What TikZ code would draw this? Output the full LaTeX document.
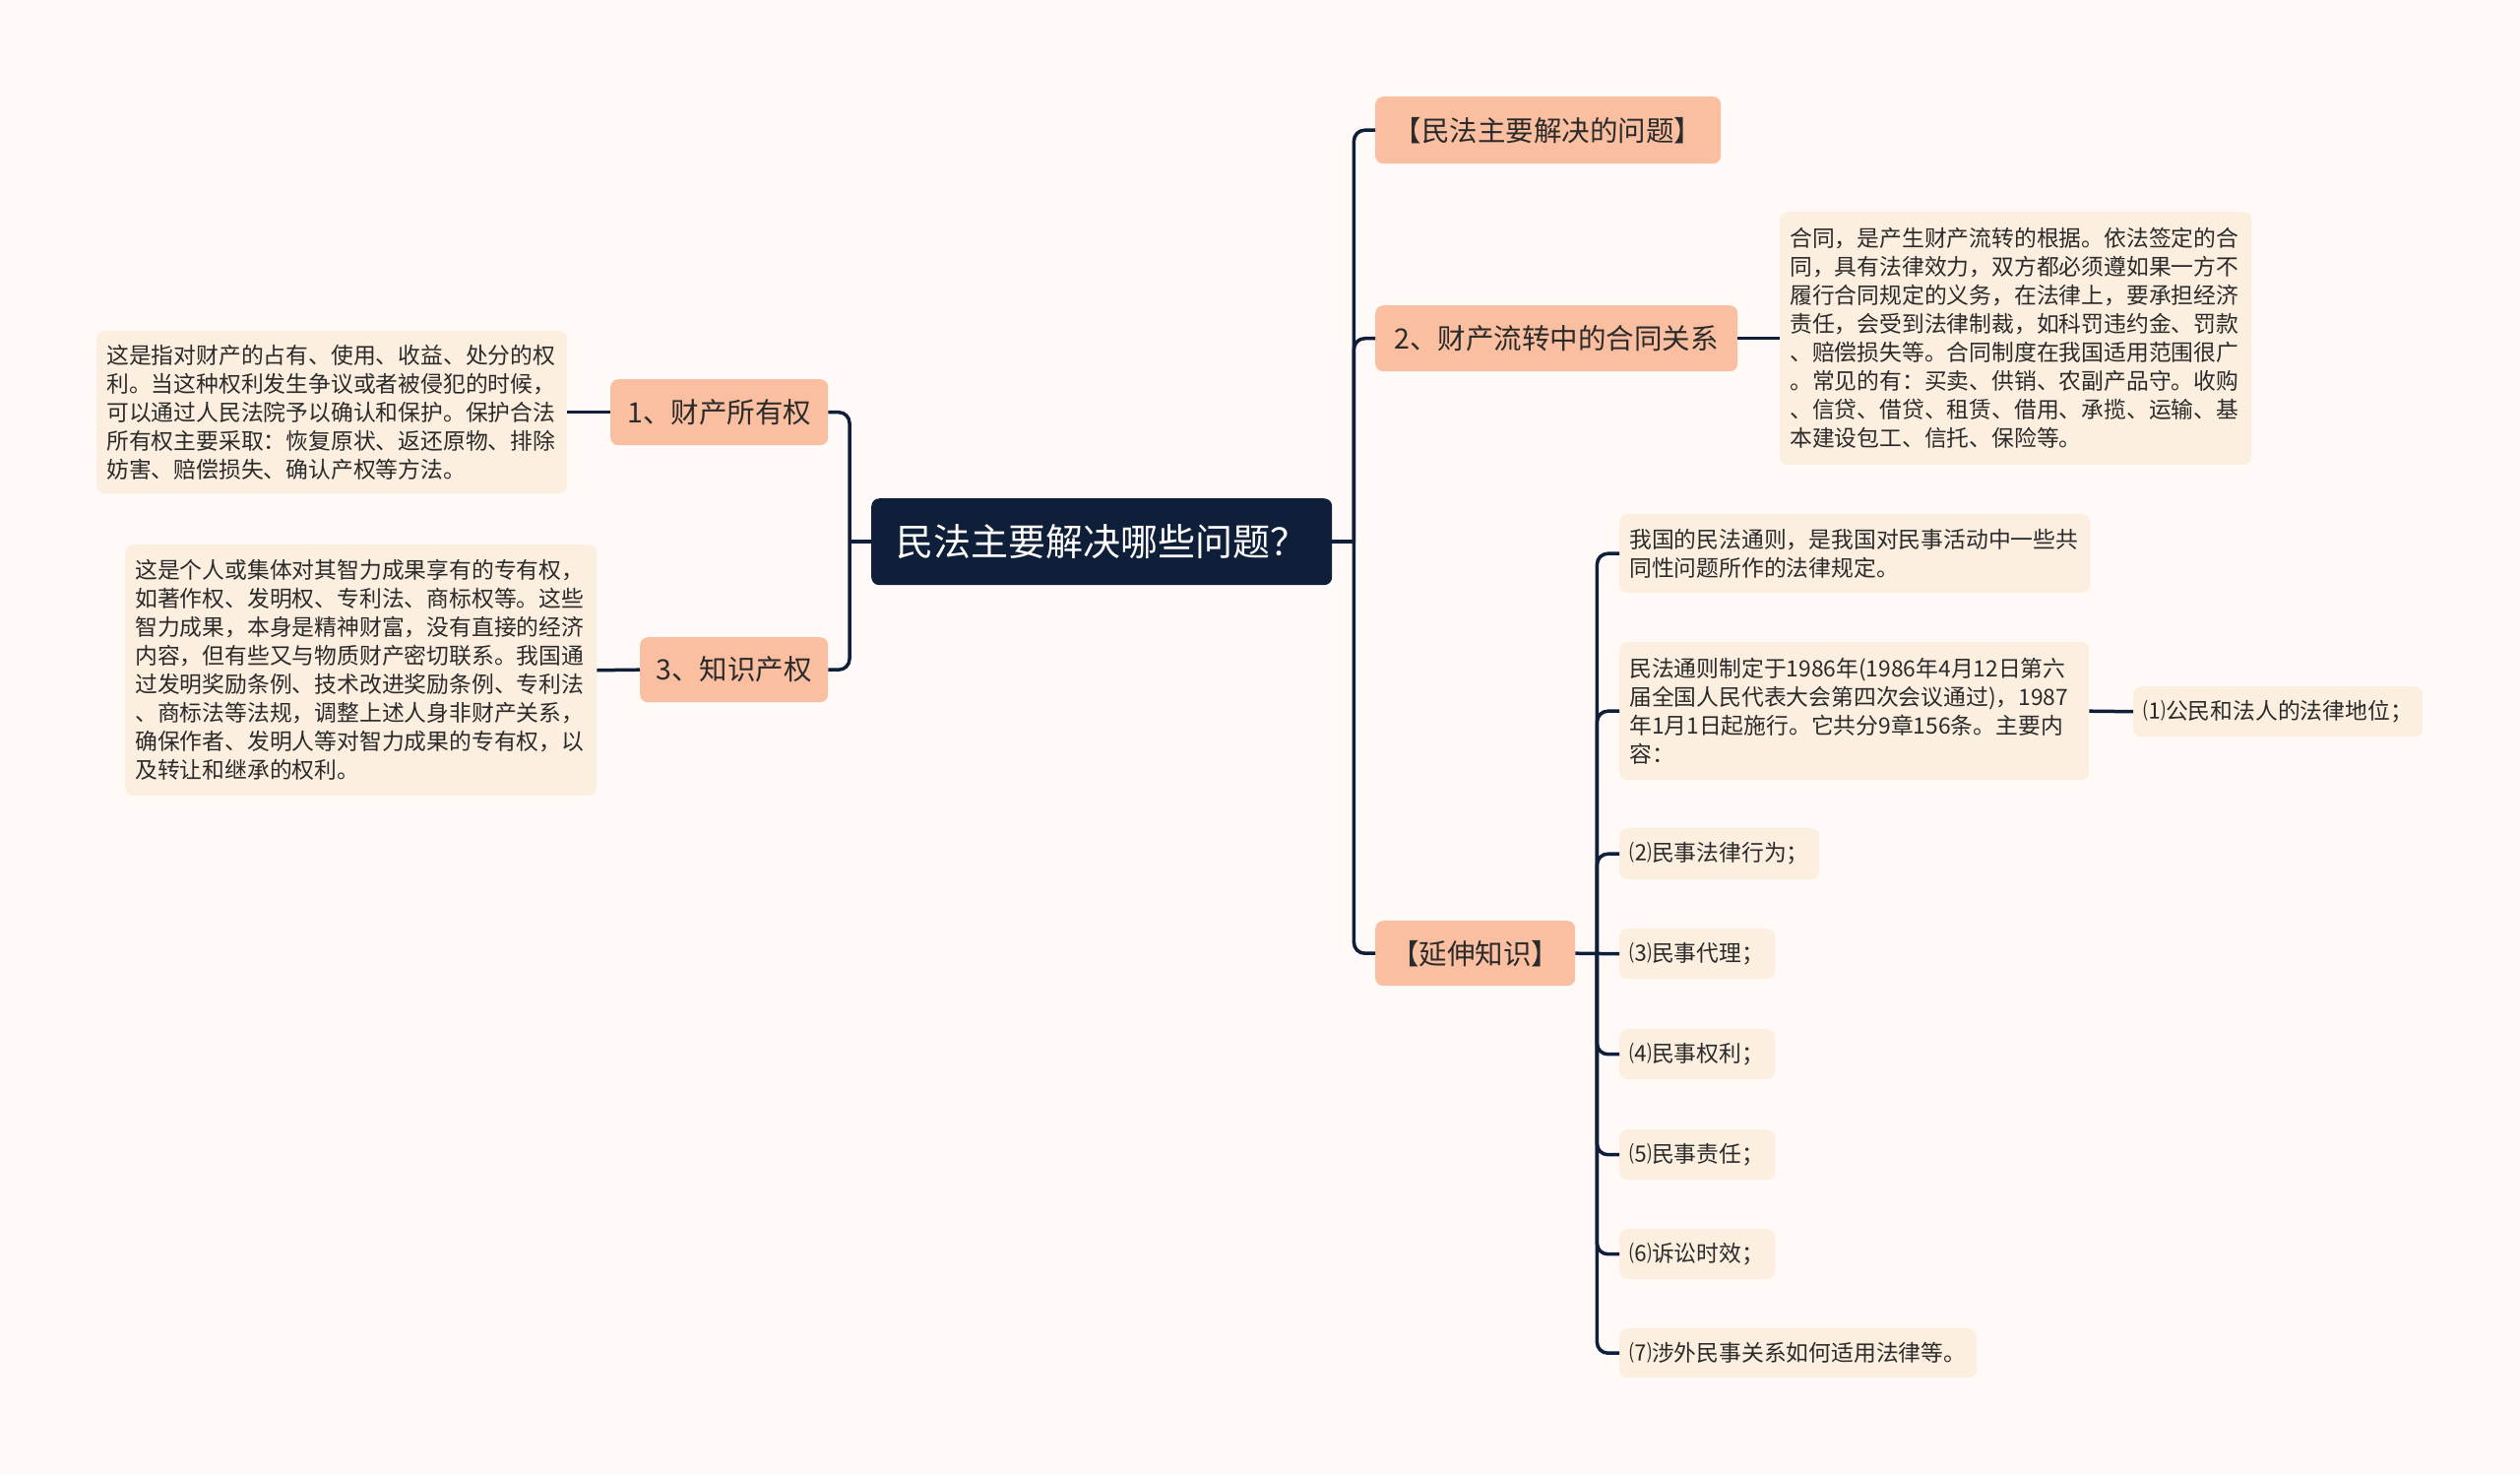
\documentclass[tikz,border=0pt]{standalone}
\usepackage{fontspec}
\setmainfont{Noto Sans CJK SC}
\definecolor{bgc}{HTML}{FFFAF8}
\definecolor{rootc}{HTML}{0F1F3A}
\definecolor{hdrc}{HTML}{FABEA0}
\definecolor{leafc}{HTML}{FDEFE0}
\definecolor{txtc}{HTML}{2B2B2B}
\definecolor{linec}{HTML}{0F1F3A}
\begin{document}
\begin{tikzpicture}[x=1pt,y=-1pt,
  rootbox/.style={fill=rootc,text=white,rounded corners=8pt,inner sep=0pt,anchor=north west,align=center,font=\fontsize{38}{46}\selectfont},
  hdrbox/.style={fill=hdrc,text=txtc,rounded corners=8pt,inner sep=0pt,anchor=north west,align=center,font=\fontsize{28.5}{34}\selectfont},
  leafbox/.style={fill=leafc,text=txtc,rounded corners=8pt,inner xsep=10pt,inner ysep=0pt,anchor=north west,align=left,font=\fontsize{22.8}{29}\selectfont},
  conn/.style={draw=linec,line width=3.5pt},
  rconn/.style={draw=linec,line width=3.5pt,rounded corners=11pt}]
\fill[bgc] (0,0) rectangle (2560,1497);
\useasboundingbox (0,0) rectangle (2560,1497);

% root
\node[rootbox,minimum width=468pt,minimum height=88pt] (root) at (885,506) {民法主要解决哪些问题？};

% left side
\node[hdrbox,minimum width=221pt,minimum height=67pt] (n1) at (620,385) {1、财产所有权};
\node[hdrbox,minimum width=191pt,minimum height=66pt] (n3) at (650,647) {3、知识产权};
\node[leafbox,text width=458pt,minimum height=165pt] (L1) at (98,336) {这是指对财产的占有、使用、收益、处分的权\\利。当这种权利发生争议或者被侵犯的时候，\\可以通过人民法院予以确认和保护。保护合法\\所有权主要采取：恢复原状、返还原物、排除\\妨害、赔偿损失、确认产权等方法。};
\node[leafbox,text width=459pt,minimum height=255pt] (L3) at (127,553) {这是个人或集体对其智力成果享有的专有权，\\如著作权、发明权、专利法、商标权等。这些\\智力成果，本身是精神财富，没有直接的经济\\内容，但有些又与物质财产密切联系。我国通\\过发明奖励条例、技术改进奖励条例、专利法\\、商标法等法规，调整上述人身非财产关系，\\确保作者、发明人等对智力成果的专有权，以\\及转让和继承的权利。};

% right side
\node[hdrbox,minimum width=351pt,minimum height=68pt] (m) at (1397,98) {【民法主要解决的问题】};
\node[hdrbox,minimum width=368pt,minimum height=67pt] (n2) at (1397,310) {2、财产流转中的合同关系};
\node[leafbox,text width=459pt,minimum height=257pt] (L2) at (1808,215) {合同，是产生财产流转的根据。依法签定的合\\同，具有法律效力，双方都必须遵如果一方不\\履行合同规定的义务，在法律上，要承担经济\\责任，会受到法律制裁，如科罚违约金、罚款\\、赔偿损失等。合同制度在我国适用范围很广\\。常见的有：买卖、供销、农副产品守。收购\\、信贷、借贷、租赁、借用、承揽、运输、基\\本建设包工、信托、保险等。};
\node[hdrbox,minimum width=203pt,minimum height=66pt] (ext) at (1397,935) {【延伸知识】};

\node[leafbox,text width=458pt,minimum height=80pt] (a) at (1645,522) {我国的民法通则，是我国对民事活动中一些共\\同性问题所作的法律规定。};
\node[leafbox,text width=457pt,minimum height=140pt] (b) at (1645,652) {民法通则制定于1986年(1986年4月12日第六\\届全国人民代表大会第四次会议通过)，1987\\年1月1日起施行。它共分9章156条。主要内\\容：};
\node[leafbox,text width=274pt,minimum height=51pt] (c1) at (2167,697) {⑴公民和法人的法律地位；};
\node[leafbox,text width=183pt,minimum height=52pt] (c2) at (1645,841) {⑵民事法律行为；};
\node[leafbox,text width=138pt,minimum height=51pt] (c3) at (1645,943) {⑶民事代理；};
\node[leafbox,text width=138pt,minimum height=51pt] (c4) at (1645,1045) {⑷民事权利；};
\node[leafbox,text width=138pt,minimum height=51pt] (c5) at (1645,1147) {⑸民事责任；};
\node[leafbox,text width=138pt,minimum height=51pt] (c6) at (1645,1248) {⑹诉讼时效；};
\node[leafbox,text width=343pt,minimum height=50pt] (c7) at (1645,1349) {⑺涉外民事关系如何适用法律等。};

% junction coordinates
\coordinate (jl) at ([xshift=-22pt]root.west);
\coordinate (jr) at ([xshift=22pt]root.east);
\coordinate (je) at ([xshift=22pt]ext.east);

% left connectors
\draw[conn] (root.west) -- (jl);
\draw[rconn] (jl) |- (n1.east);
\draw[rconn] (jl) |- (n3.east);
\draw[conn] (n1.west) -- (L1.east);
\draw[conn] (n3.west) -- (L3.east);

% right connectors
\draw[conn] (root.east) -- (jr);
\draw[rconn] (jr) |- (m.west);
\draw[rconn] (jr) |- (n2.west);
\draw[rconn] (jr) |- (ext.west);
\draw[conn] (n2.east) -- (L2.west);

% extension connectors
\draw[conn] (ext.east) -- (c3.west);
\draw[rconn] (je) |- (a.west);
\draw[rconn] (je) |- (b.west);
\draw[rconn] (je) |- (c2.west);
\draw[rconn] (je) |- (c4.west);
\draw[rconn] (je) |- (c5.west);
\draw[rconn] (je) |- (c6.west);
\draw[rconn] (je) |- (c7.west);
\draw[conn] (b.east) -- (c1.west);
\end{tikzpicture}
\end{document}
